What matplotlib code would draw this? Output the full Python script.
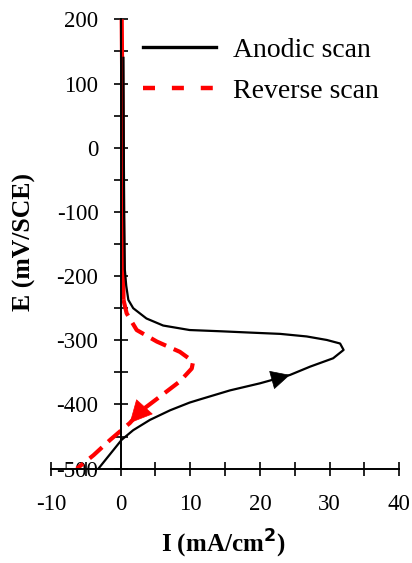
import matplotlib
matplotlib.use('Agg')
import matplotlib.pyplot as plt
from matplotlib.lines import Line2D
from matplotlib.ticker import MultipleLocator

plt.rcParams['font.family'] = ['Liberation Serif', 'DejaVu Serif']
plt.rcParams['axes.unicode_minus'] = False

# anodic scan (black), read going up from -500 mV
anodic_i = [-3.2, 0.14, 1.8, 4.2, 7.1, 9.9, 11.4, 15.7, 20.0, 24.3, 27.2,
            30.5, 32.0, 31.5, 29.6, 26.7, 22.9, 18.6, 14.5, 9.9, 6.1, 3.7,
            1.8, 1.1, 0.8, 0.6, 0.5, 0.45, 0.4]
anodic_e = [-500, -455, -440, -424, -409, -397, -392, -378, -367, -354, -341,
            -328, -315, -305, -299.5, -294, -290, -288, -286, -284, -277, -266,
            -250, -237, -215, -190, -100, 0, 140]

# reverse scan (red dashed), read going down from +200 mV
reverse_i = [0.15, 0.3, 0.4, 0.86, 2.3, 5.2, 8.5, 10.4, 10.2, 8.5, 5.6,
             2.8, 1.3, -1.5, -3.9, -6.3]
reverse_e = [200, 0, -237, -258, -284, -302, -318, -333, -344, -364, -388,
             -411, -429, -455, -479, -500]

x_ticks = [-10, 0, 10, 20, 30, 40]
y_ticks = [-500, -400, -300, -200, -100, 0, 100, 200]

fig = plt.figure(figsize=(4.12, 5.63), dpi=100)
ax = fig.add_axes([0.1238, 0.1675, 0.8454, 0.7982])

# vertical part of the reverse scan looks solid (short segments)
ax.plot(reverse_i[:3], reverse_e[:3], color='#ff0000', lw=3, solid_capstyle='butt')
ax.plot(reverse_i[2:], reverse_e[2:], color='#ff0000', lw=3, dashes=(4, 2))
ax.plot(anodic_i, anodic_e, color='black', lw=1.6)


def arrow_at(xs, ys, k, color, scale):
    # arrowhead with its tip on point k, pointing along the curve
    ax.annotate('', xy=(xs[k], ys[k]),
                xytext=(xs[k] - 0.02 * (xs[k] - xs[k - 1]),
                        ys[k] - 0.02 * (ys[k] - ys[k - 1])),
                arrowprops=dict(arrowstyle='-|>,head_length=0.8,head_width=0.4',
                                color=color, lw=0.5, mutation_scale=scale,
                                shrinkA=0, shrinkB=0))


arrow_at(anodic_i, anodic_e, 9, 'black', 16)
arrow_at(reverse_i, reverse_e, 12, '#ff0000', 19)

ax.set_xlim(-10, 40)
ax.set_ylim(-500, 200)
ax.spines['left'].set_position(('data', 0))
ax.spines['top'].set_visible(False)
ax.spines['right'].set_visible(False)
for sp in ['left', 'bottom']:
    ax.spines[sp].set_linewidth(1.4)

ax.set_xticks(x_ticks)
ax.set_yticks(y_ticks)
ax.xaxis.set_minor_locator(MultipleLocator(5))
ax.yaxis.set_minor_locator(MultipleLocator(50))
ax.tick_params(which='both', direction='inout', length=10, width=1.2,
               labelsize=16.5)
ax.tick_params(axis='x', which='major', pad=13)
ax.tick_params(axis='y', which='major', pad=11)

ax.set_xlabel('I (mA/cm$^\\mathbf{2}$)', fontsize=18, fontweight='bold')
ax.set_ylabel('E (mV/SCE)', fontsize=18.5, fontweight='bold')
ax.xaxis.set_label_coords(0.495, -0.1665)
ax.xaxis.label.set_va('center')
ax.yaxis.set_label_coords(-0.0775, 0.505)
ax.yaxis.label.set_va('center')

# legend keys are drawn a bit heavier than the curves, with wider gaps
handles = [Line2D([], [], color='black', lw=2.4),
           Line2D([], [], color='#ff0000', lw=3.2, dashes=(2.7, 3.8))]
ax.legend(handles, ['Anodic scan', 'Reverse scan'], loc='upper left',
          bbox_to_anchor=(0.347, 0.933), bbox_transform=fig.transFigure,
          frameon=False, fontsize=20, borderpad=0, borderaxespad=0,
          handlelength=2.63, handletextpad=0.62, labelspacing=0.56)

fig.savefig('out.png', dpi=100)
